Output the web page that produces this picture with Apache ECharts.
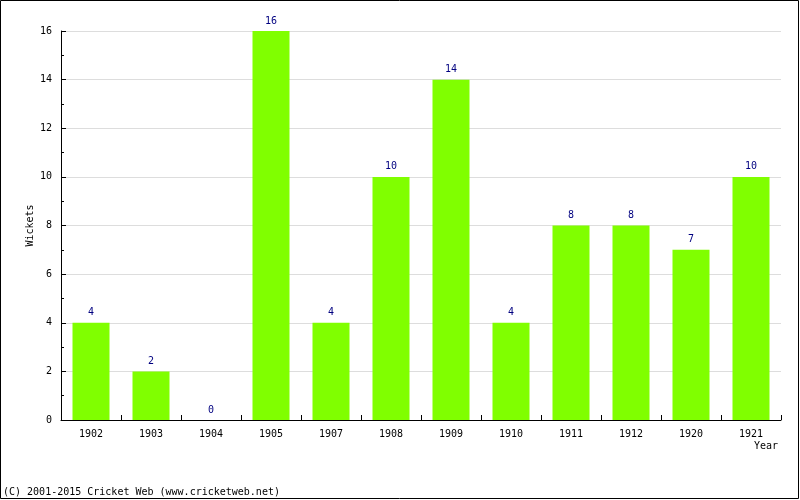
<!DOCTYPE html>
<html><head><meta charset="utf-8">
<script src="https://cdn.jsdelivr.net/npm/echarts@6/dist/echarts.min.js"></script>
<style>html,body{margin:0;padding:0;background:#fff}#c{width:800px;height:500px}</style>
</head><body><div id="c"></div>
<script>
var categories = ['1902','1903','1904','1905','1907','1908','1909','1910','1911','1912','1920','1921'];
var wickets = [4,2,0,16,4,10,14,4,8,8,7,10];
var yTicks = [0,2,4,6,8,10,12,14,16];
var font = 'DejaVu Sans Mono';
var chart = echarts.init(document.getElementById('c'), null, {renderer:'canvas'});
chart.setOption({
  animation:false,
  backgroundColor:'#fff',
  textStyle:{fontFamily:font},
  grid:{left:61,right:19,top:31,bottom:80,containLabel:false},
  graphic:[
    {type:'rect',shape:{x:0.5,y:0.5,width:798,height:498},style:{fill:'none',stroke:'#000',lineWidth:1},silent:true},
    {type:'text',left:3,top:487,style:{text:'(C) 2001-2015 Cricket Web (www.cricketweb.net)',font:'10px "DejaVu Sans Mono"',fill:'#000'}}
  ],
  xAxis:{
    type:'category',data:categories,
    name:'Year',nameLocation:'end',nameGap:0,
    nameTextStyle:{fontFamily:font,fontSize:10,color:'#000',align:'right',verticalAlign:'top',padding:[21,3,0,0]},
    axisLine:{lineStyle:{color:'#000',width:1}},
    axisTick:{show:true,inside:true,length:5,lineStyle:{color:'#000'}},
    axisLabel:{color:'#000',fontFamily:font,fontSize:10,margin:9},
    splitLine:{show:false}
  },
  yAxis:{
    type:'value',min:yTicks[0],max:yTicks[yTicks.length-1],interval:2,
    name:'Wickets',nameLocation:'middle',nameGap:26,nameRotate:90,nameMoveOverlap:false,
    nameTextStyle:{fontFamily:font,fontSize:10,color:'#000'},
    axisLine:{show:true,lineStyle:{color:'#000',width:1}},
    axisTick:{show:true,inside:true,length:5,lineStyle:{color:'#000'}},
    minorTick:{show:true,splitNumber:2,length:3,lineStyle:{color:'#000'}},
    axisLabel:{color:'#000',fontFamily:font,fontSize:10,margin:9},
    splitLine:{show:true,lineStyle:{color:'#dddddd',width:1}}
  },
  series:[{
    type:'bar',data:wickets,barWidth:37,
    itemStyle:{color:'#80ff00'},
    label:{show:true,position:'top',distance:5,color:'#000080',fontFamily:font,fontSize:10}
  }]
});
</script></body></html>
